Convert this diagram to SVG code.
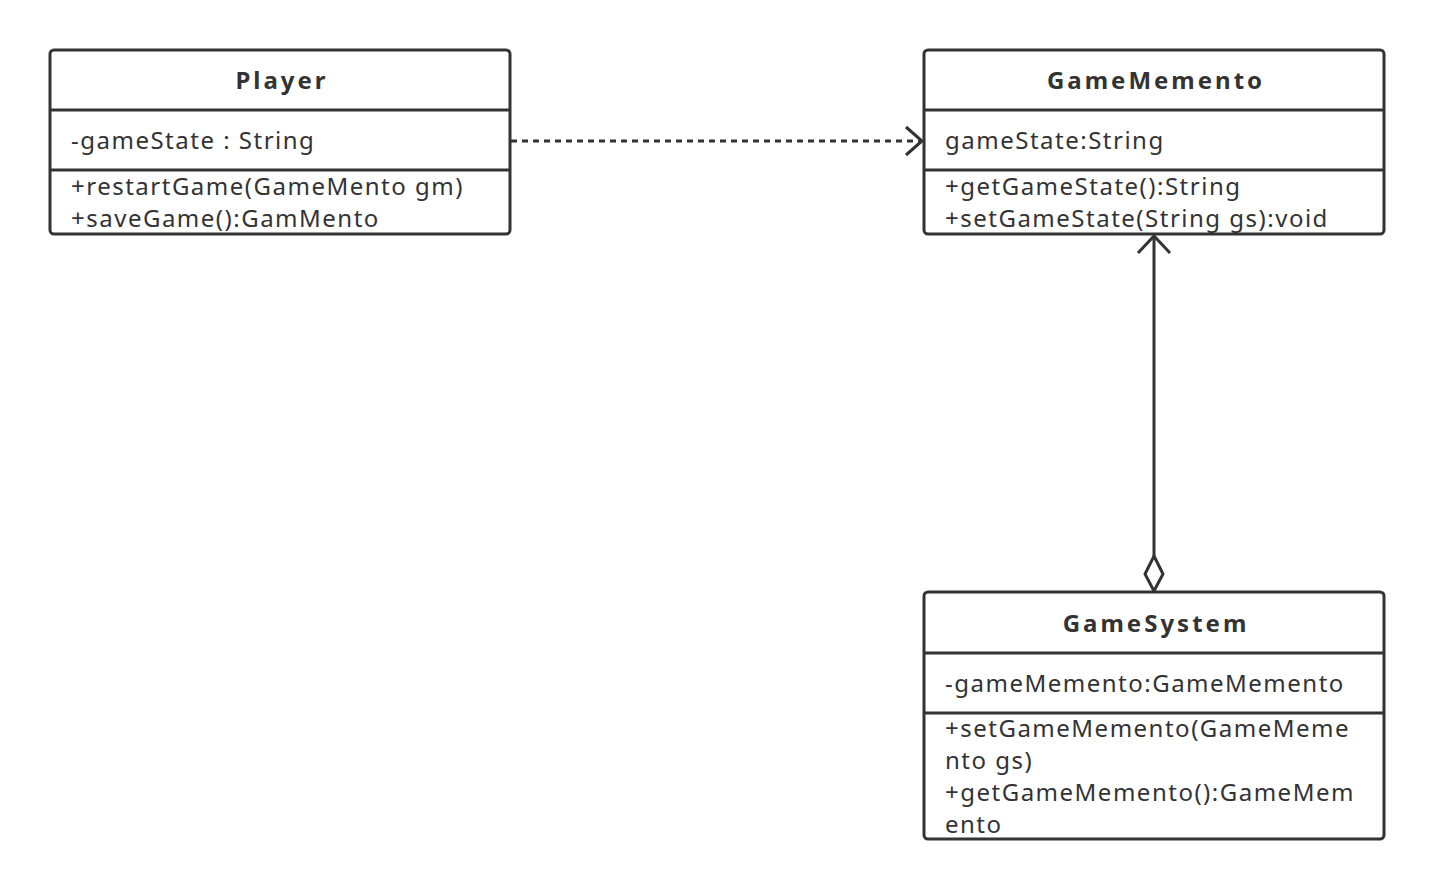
<svg xmlns="http://www.w3.org/2000/svg" width="1434" height="890" viewBox="0 0 1434 890">
<style>
.box{fill:#fff;stroke:#333;stroke-width:3}
.ln{stroke:#333;stroke-width:3}
.t{font-family:"Noto Sans","Open Sans",sans-serif;font-size:24px;fill:#333;letter-spacing:1.5px}
.h{font-family:"Noto Sans","Open Sans",sans-serif;font-size:24px;font-weight:bold;fill:#333;text-anchor:middle;letter-spacing:3px}
.c{fill:none;stroke:#333;stroke-width:3}
</style>
<rect width="1434" height="890" fill="#fff"/>
<g id="connectors">
<line class="c" x1="511" y1="141" x2="920" y2="141" stroke-dasharray="6 5"/>
<polyline class="c" points="906,127 922,141 906,155"/>
<line class="c" x1="1154" y1="237" x2="1154" y2="556"/>
<polyline class="c" points="1138,253 1154,236 1170,253"/>
<polygon class="c" points="1154,556 1163,574 1154,591 1145,574"/>
</g>
<g id="player">
<rect class="box" x="50" y="50" width="460" height="184" rx="4"/>
<line class="ln" x1="50" y1="110" x2="510" y2="110"/>
<line class="ln" x1="50" y1="170" x2="510" y2="170"/>
<text class="h" x="282" y="89">Player</text>
<text class="t" x="71" y="149">-gameState : String</text>
<text class="t" x="71" y="195">+restartGame(GameMento gm)</text>
<text class="t" x="71" y="227">+saveGame():GamMento</text>
</g>
<g id="gamememento">
<rect class="box" x="924" y="50" width="460" height="184" rx="4"/>
<line class="ln" x1="924" y1="110" x2="1384" y2="110"/>
<line class="ln" x1="924" y1="170" x2="1384" y2="170"/>
<text class="h" x="1156" y="89">GameMemento</text>
<text class="t" x="945" y="149">gameState:String</text>
<text class="t" x="945" y="195">+getGameState():String</text>
<text class="t" x="945" y="227">+setGameState(String gs):void</text>
</g>
<g id="gamesystem">
<rect class="box" x="924" y="592" width="460" height="247" rx="4"/>
<line class="ln" x1="924" y1="653" x2="1384" y2="653"/>
<line class="ln" x1="924" y1="713" x2="1384" y2="713"/>
<text class="h" x="1156" y="632">GameSystem</text>
<text class="t" x="945" y="692">-gameMemento:GameMemento</text>
<text class="t" x="945" y="737">+setGameMemento(GameMeme</text>
<text class="t" x="945" y="769">nto gs)</text>
<text class="t" x="945" y="801">+getGameMemento():GameMem</text>
<text class="t" x="945" y="833">ento</text>
</g>
</svg>
